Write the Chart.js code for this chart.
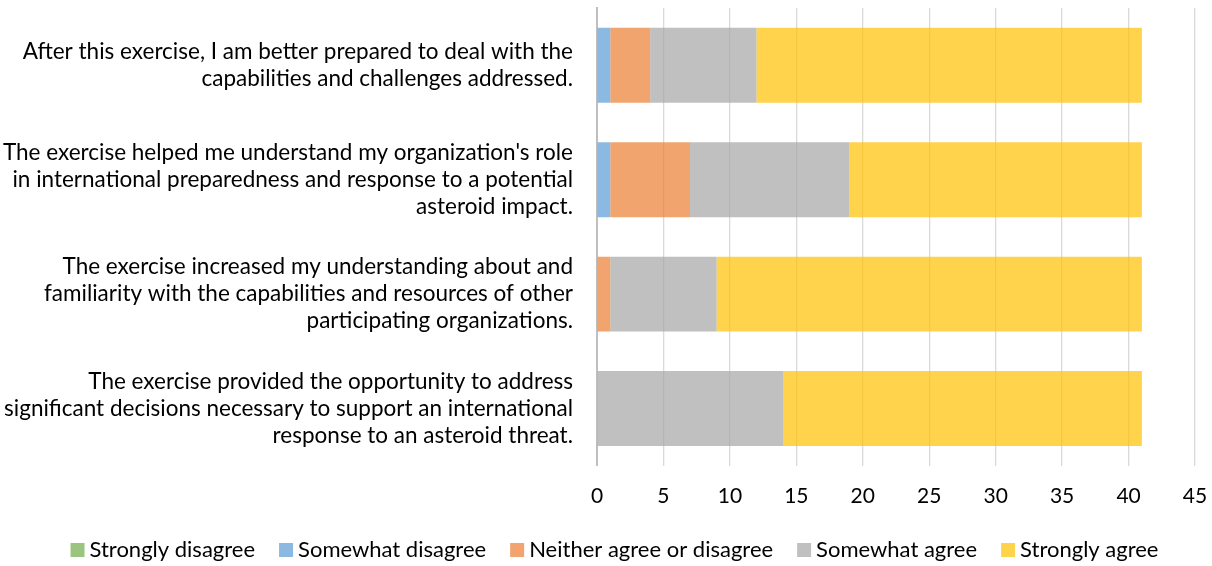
<!DOCTYPE html>
<html lang="en">
<head>
  <meta charset="UTF-8">
  <title>Exercise Evaluation</title>
  <style>
    body {
      margin: 0;
      padding: 0;
      background: #fff;
    }
    .chart-container {
      position: relative;
      width: 1212px;
      height: 566px;
    }
  </style>
</head>
<body>
  <div class="chart-container">
    <canvas id="surveyChart"></canvas>
  </div>

  <script src="https://cdn.jsdelivr.net/npm/chart.js"></script>
  <script>
    // Survey statements (top to bottom)
    const statements = [
      ['After this exercise, I am better prepared to deal with the', 'capabilities and challenges addressed.'],
      ["The exercise helped me understand my organization's role", 'in international preparedness and response to a potential', 'asteroid impact.'],
      ['The exercise increased my understanding about and', 'familiarity with the capabilities and resources of other', 'participating organizations.'],
      ['The exercise provided the opportunity to address', 'significant decisions necessary to support an international', 'response to an asteroid threat.']
    ];

    // Response counts per statement
    const stronglyDisagree = [0, 0, 0, 0];
    const somewhatDisagree = [1, 1, 0, 0];
    const neitherAgree     = [3, 6, 1, 0];
    const somewhatAgree    = [8, 12, 8, 14];
    const stronglyAgree    = [29, 22, 32, 27];

    const xTicks = [0, 5, 10, 15, 20, 25, 30, 35, 40, 45];

    const font = "Lato, 'Open Sans', sans-serif";

    // bar fills are semi-transparent; legend swatches use the same tint, opaque
    const legendSwatch = ['#9bc57e', '#8cb9e1', '#f2a36f', '#c0c0c0', '#ffd34c'];

    const ctx = document.getElementById('surveyChart').getContext('2d');
    const chart = new Chart(ctx, {
      type: 'bar',
      data: {
        labels: statements,
        datasets: [
          { label: 'Strongly disagree', data: stronglyDisagree, backgroundColor: 'rgba(112,173,71,0.7)' },
          { label: 'Somewhat disagree', data: somewhatDisagree, backgroundColor: 'rgba(91,155,213,0.7)' },
          { label: 'Neither agree or disagree', data: neitherAgree, backgroundColor: 'rgba(237,125,49,0.7)' },
          { label: 'Somewhat agree', data: somewhatAgree, backgroundColor: 'rgba(165,165,165,0.7)' },
          { label: 'Strongly agree', data: stronglyAgree, backgroundColor: 'rgba(255,192,0,0.7)' }
        ]
      },
      options: {
        indexAxis: 'y',
        responsive: true,
        maintainAspectRatio: false,
        animation: false,
        datasets: {
          bar: {
            categoryPercentage: 0.655,
            barPercentage: 1.0,
            borderWidth: 0
          }
        },
        layout: {
          padding: { top: 8, right: 17, bottom: 0, left: 0 }
        },
        scales: {
          x: {
            stacked: true,
            min: 0,
            max: 45,
            afterBuildTicks: (scale) => {
              scale.ticks = xTicks.map(v => ({ value: v }));
            },
            afterFit: (scale) => {
              scale.paddingRight = 0;
              scale.height -= 18;
            },
            grid: {
              color: '#d9d9d9',
              lineWidth: 1.3,
              drawTicks: false
            },
            border: { display: false },
            ticks: {
              color: '#000',
              padding: 18,
              font: { family: font, size: 21 }
            }
          },
          y: {
            stacked: true,
            afterFit: (scale) => {
              // fixed label column; no extra room above/below for wrapped labels
              scale.width = 597;
              scale.paddingTop = 0;
              scale.paddingBottom = 0;
            },
            grid: { display: false, drawTicks: false },
            border: { display: true, color: '#bfbfbf', width: 2 },
            ticks: {
              color: '#000',
              padding: 24,
              font: { family: font, size: 22.5, lineHeight: 1.2 }
            }
          }
        },
        plugins: {
          legend: {
            position: 'bottom',
            labels: {
              color: '#000',
              // tiny box widened by a thick stroke so the text sits close to the swatch
              boxWidth: 2,
              boxHeight: 2,
              padding: 30,
              font: { family: font, size: 22 },
              generateLabels: (c) => Chart.defaults.plugins.legend.labels.generateLabels(c).map((item, i) => ({
                ...item,
                fillStyle: legendSwatch[i],
                strokeStyle: legendSwatch[i],
                lineWidth: 12,
                lineJoin: 'miter'
              }))
            }
          },
          tooltip: { enabled: false }
        }
      }
    });

    // the wide item padding also pads the legend vertically; pull it back a bit,
    // and nudge the row to the right (it is centred including the trailing gap)
    const legendFit = chart.legend.fit;
    chart.legend.fit = function () {
      legendFit.call(this);
      this.height -= 5;
      this.lineWidths[0] -= 40;
    };
    chart.update();
  </script>
</body>
</html>
